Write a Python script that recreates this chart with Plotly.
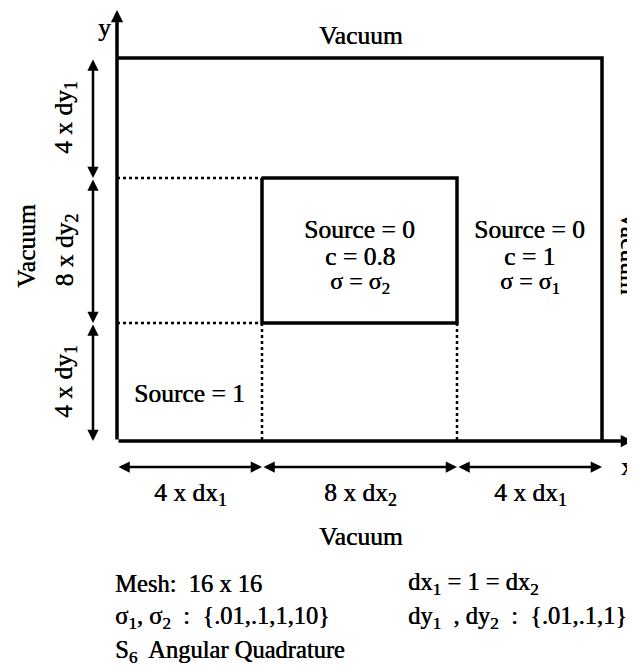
import plotly.graph_objects as go

# Diagram geometry (diagram units = page pixels, y grows downward)
x_edges = [117, 262, 457, 602]      # region boundaries along x
y_edges = [58, 178, 323, 441]       # region boundaries along y
x_axis_end = 633
y_axis_end = 10
dim_x = 93                          # x of vertical dimension arrows
dim_y = 467                         # y of horizontal dimension arrows

# Labels
x_dim_labels = ["4 x dx<sub>1</sub>", "8 x dx<sub>2</sub>", "4 x dx<sub>1</sub>"]
y_dim_labels = ["4 x dy<sub>1</sub>", "8 x dy<sub>2</sub>", "4 x dy<sub>1</sub>"]
inner_text = ["Source = 0", "c = 0.8", "σ = σ<sub>2</sub>"]
right_text = ["Source = 0", "c = 1", "σ = σ<sub>1</sub>"]
source_text = "Source = 1"
boundary_label = "Vacuum"
notes_left = ["Mesh:\u00a0 16 x 16",
              "σ<sub>1</sub>, σ<sub>2</sub>\u00a0 :\u00a0 {.01,.1,1,10}",
              "S<sub>6</sub>\u00a0 Angular Quadrature"]
notes_right = ["dx<sub>1</sub> = 1 = dx<sub>2</sub>",
               "dy<sub>1</sub>\u00a0 , dy<sub>2</sub>\u00a0 :\u00a0 {.01,.1,1}"]

FONT = "Liberation Serif, Times New Roman, serif"
FS = 25.5
FS_NOTES = 24.5
BLACK = "black"
SHADOW = "0.5px 0px 0px black"

# the page body has an 8px margin: size the figure so it fills the window exactly
PAGE_W, PAGE_H, BODY_MARGIN = 635, 669, 8

fig = go.Figure()

x0, x1, x2, x3 = x_edges
y0, y1, y2, y3 = y_edges
# outer box (top & right sides; left & bottom are the axes)
fig.add_trace(go.Scatter(x=[x0, x3, x3], y=[y0, y0, y3], mode="lines",
                         line=dict(color=BLACK, width=3.5), hoverinfo="skip"))
# inner box
fig.add_trace(go.Scatter(x=[x1, x2, x2, x1, x1], y=[y1, y1, y2, y2, y1], mode="lines",
                         line=dict(color=BLACK, width=3.5), hoverinfo="skip"))
# dotted lines
for xs, ys in [([x0, x1], [y1, y1]), ([x0, x1], [y2, y2]),
               ([x1, x1], [y2, y3]), ([x2, x2], [y2, y3])]:
    fig.add_trace(go.Scatter(x=xs, y=ys, mode="lines",
                             line=dict(color=BLACK, width=2.5, dash="dot"), hoverinfo="skip"))

annotations = []

def arrow(xa, ya, xb, yb, both=True, w=2.5, size=0.9):
    annotations.append(dict(x=xb, y=yb, ax=xa, ay=ya, xref="x", yref="y", axref="x", ayref="y",
                            text="", showarrow=True, arrowhead=2, arrowsize=size, arrowwidth=w,
                            arrowcolor=BLACK, arrowside="end+start" if both else "end",
                            standoff=0, startstandoff=0))

# axes
arrow(x0, y3, x0, y_axis_end, both=False, w=3.5, size=0.7)
arrow(x0, y3, x_axis_end, y3, both=False, w=3.5, size=0.7)

# dimension arrows
for i in range(3):
    arrow(dim_x, y_edges[i], dim_x, y_edges[i + 1])
    arrow(x_edges[i], dim_y, x_edges[i + 1], dim_y)

def text(x, y, s, angle=0, xanchor="center", size=FS, xshift=0):
    annotations.append(dict(x=x, y=y, xref="x", yref="y", text=s, showarrow=False,
                            textangle=angle, xanchor=xanchor, yanchor="middle", xshift=xshift,
                            font=dict(family=FONT, size=size, color=BLACK, shadow=SHADOW)))

# axis labels
text(104, 27, "y")
text(627, 466, "x")

# Vacuum labels
text(361, 35, boundary_label)
text(361, 536, boundary_label)
text(26, 246, boundary_label, angle=-90)
text(630, 253, boundary_label, angle=90)

# dimension labels
for i in range(3):
    text((x_edges[i] + x_edges[i + 1]) / 2 + 1, 494, x_dim_labels[i])
    text(65, (y_edges[i] + y_edges[i + 1]) / 2, y_dim_labels[i], angle=-90)

# region texts
for k, yy in enumerate([229, 256, 283]):
    text((x1 + x2) / 2, yy, inner_text[k], size=FS if k < 2 else 24)
    text((x2 + x3) / 2, yy, right_text[k], size=FS if k < 2 else 24)
text(189, 393, source_text)

# notes
for k, yy in enumerate([583, 617, 651]):
    text(113, yy, notes_left[k], xanchor="left", size=FS_NOTES)
for k, yy in enumerate([583, 617]):
    text(406, yy, notes_right[k], xanchor="left", size=FS_NOTES)

fig.update_layout(
    width=PAGE_W - BODY_MARGIN, height=PAGE_H - BODY_MARGIN,
    margin=dict(l=0, r=0, t=0, b=0),
    paper_bgcolor="white", plot_bgcolor="white",
    showlegend=False,
    xaxis=dict(range=[BODY_MARGIN, PAGE_W], visible=False, fixedrange=True),
    yaxis=dict(range=[PAGE_H, BODY_MARGIN], visible=False, fixedrange=True),
    annotations=annotations,
)

fig.write_html("out.html")
